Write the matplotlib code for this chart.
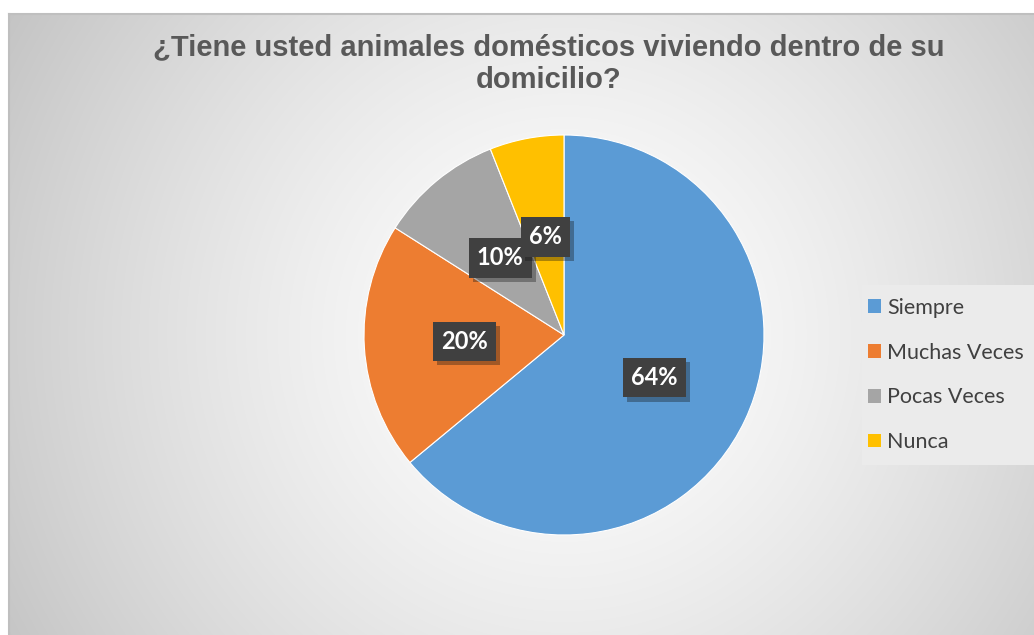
import numpy as np
import matplotlib.pyplot as plt
import matplotlib.patheffects as pe

categories = ["Siempre", "Muchas Veces", "Pocas Veces", "Nunca"]
values = [64, 20, 10, 6]
colors = ["#5b9bd5", "#ed7d31", "#a5a5a5", "#ffc000"]
title = "¿Tiene usted animales domésticos viviendo dentro de su\ndomicilio?"

W, H = 1034, 635
fig = plt.figure(figsize=(W / 100, H / 100), dpi=100)
fig.patch.set_facecolor("white")

# chart area with radial gradient background
x0, y0 = 9, 14
bg = fig.add_axes([x0 / W, 0, (W - x0) / W, (H - y0) / H])
yy, xx = np.mgrid[0:H - y0, 0:W - x0]
cx, cy = 564 - x0, 335 - y0
d = np.hypot(xx - cx, yy - cy) / np.hypot(cx, cy)
shade = 1.0 - 0.23 * np.clip(d, 0, 1.1) ** 1.4
bg.imshow(np.dstack([shade] * 3), aspect="auto", extent=[0, 1, 0, 1], origin="upper")
bg.set_xticks([])
bg.set_yticks([])
for side, sp in bg.spines.items():
    sp.set_visible(side in ("left", "top"))
    sp.set_color("#bfbfbf")
    sp.set_linewidth(1.5)

# pie
R = 200
ax = fig.add_axes([(564 - R) / W, (H - 335 - R) / H, 2 * R / W, 2 * R / H])
wedges, texts, autotexts = ax.pie(
    values, colors=colors, startangle=90, counterclock=False,
    autopct="%1.0f%%", pctdistance=0.5, radius=1,
    wedgeprops=dict(linewidth=0.8, edgecolor="white"),
)
for t in autotexts:
    t.set_color("white")
    t.set_fontsize(17)
    t.set_fontweight("bold")
    t.set_family(["Lato", "DejaVu Sans"])
    t.set_bbox(dict(boxstyle="square,pad=0.35", facecolor="#404040", edgecolor="none"))
    t.get_bbox_patch().set_path_effects(
        [pe.SimplePatchShadow(offset=(3, -3), alpha=0.35), pe.Normal()])
ax.set_xlim(-1, 1)
ax.set_ylim(-1, 1)
ax.set_aspect("equal")
ax.axis("off")

fig.text(549 / W, 1 - 64 / H, title, ha="center", va="center",
         fontsize=21, fontweight="bold", color="#595959",
         family=["Liberation Sans", "DejaVu Sans"], linespacing=1.22)

# legend
lg = fig.add_axes([862 / W, (H - 465) / H, (W - 862) / W, 180 / H])
lg.set_facecolor("#ebebeb")
lg.set_xlim(0, 1)
lg.set_ylim(0, 1)
lg.set_xticks([])
lg.set_yticks([])
for sp in lg.spines.values():
    sp.set_visible(False)
leg = lg.legend(wedges, categories, loc="center left", bbox_to_anchor=(-0.08, 0.5),
                frameon=False, prop={"family": ["Lato", "DejaVu Sans"], "size": 15.5},
                labelspacing=1.15, handlelength=0.6, handleheight=0.6,
                handletextpad=0.3)
for t in leg.get_texts():
    t.set_color("#404040")
for h in leg.legend_handles:
    h.set_edgecolor("none")

fig.savefig("out.png", dpi=100)
